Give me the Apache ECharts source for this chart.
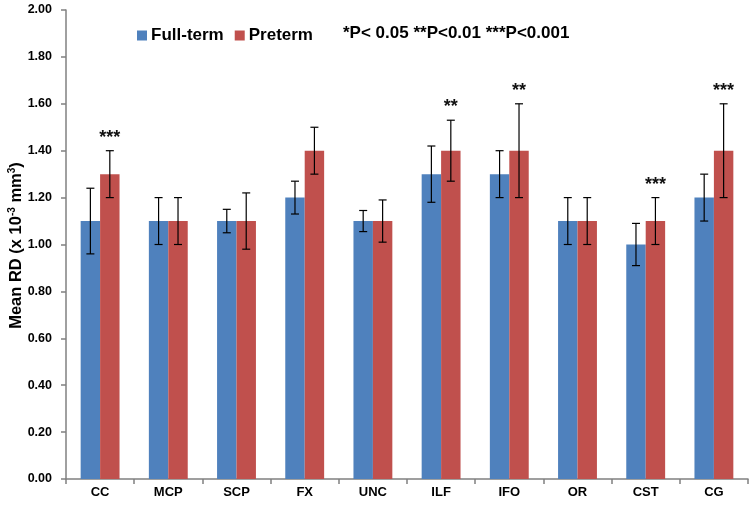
<!DOCTYPE html>
<html><head><meta charset="utf-8">
<script src="https://cdn.jsdelivr.net/npm/echarts@6/dist/echarts.min.js"></script>
<style>html,body{margin:0;padding:0;background:#fff}#c{width:755px;height:505px}</style>
</head><body><div id="c"></div>
<script>
const categories = ['CC','MCP','SCP','FX','UNC','ILF','IFO','OR','CST','CG'];
const fullTerm = [1.10,1.10,1.10,1.20,1.10,1.30,1.30,1.10,1.00,1.20];
const fullTermErr = [0.14,0.10,0.05,0.07,0.045,0.12,0.10,0.10,0.09,0.10];
const preterm = [1.30,1.10,1.10,1.40,1.10,1.40,1.40,1.10,1.10,1.40];
const pretermErr = [0.10,0.10,0.12,0.10,0.09,0.13,0.20,0.10,0.10,0.20];
const significance = ['***','','','','','**','**','','***','***'];
const yTicks = [0,0.2,0.4,0.6,0.8,1.0,1.2,1.4,1.6,1.8,2.0];

const FONT = '"Liberation Sans", Arial, sans-serif';
const BLUE = '#4F81BD', RED = '#C0504D';
const CAT_GAP = 0.43;

function errorSeries(values, errs, side) {
  return {
    type: 'custom',
    silent: true,
    z: 5,
    data: values.map((v, i) => [i, v, errs[i]]),
    renderItem: function (params, api) {
      const i = api.value(0), v = api.value(1), e = api.value(2);
      const cw = api.size([1, 0])[0];
      const bw = cw * (1 - CAT_GAP) / 2;
      const dx = side * bw / 2;
      const top = api.coord([i, v + e]);
      const bot = api.coord([i, v - e]);
      const x = top[0] + dx;
      const cap = 4;
      const st = { stroke: '#000', lineWidth: 1.2 };
      return { type: 'group', children: [
        { type: 'line', shape: { x1: x, y1: top[1], x2: x, y2: bot[1] }, style: st },
        { type: 'line', shape: { x1: x - cap, y1: top[1], x2: x + cap, y2: top[1] }, style: st },
        { type: 'line', shape: { x1: x - cap, y1: bot[1], x2: x + cap, y2: bot[1] }, style: st }
      ]};
    }
  };
}

const chart = echarts.init(document.getElementById('c'), null, { renderer: 'canvas' });
chart.setOption({
  animation: false,
  backgroundColor: '#fff',
  textStyle: { fontFamily: FONT },
  title: {
    text: '*P< 0.05 **P<0.01 ***P<0.001',
    left: 338, top: 20,
    textStyle: { fontFamily: FONT, fontSize: 17, fontWeight: 'bold', color: '#000' }
  },
  legend: {
    data: ['Full-term', 'Preterm'],
    left: 132, top: 22,
    itemWidth: 10, itemHeight: 10, itemGap: 11,
    icon: 'rect',
    textStyle: { fontFamily: FONT, fontSize: 17, fontWeight: 'bold', color: '#000', padding: [0, 0, 0, -1] }
  },
  grid: { left: 66, right: 7, top: 10, bottom: 26, containLabel: false, outerBoundsMode: 'none' },
  xAxis: {
    type: 'category',
    data: categories,
    axisLine: { lineStyle: { color: '#808080', width: 1.5 } },
    axisTick: { show: true, length: 5, alignWithLabel: false, lineStyle: { color: '#808080', width: 1.5 } },
    axisLabel: { fontFamily: FONT, fontSize: 13, fontWeight: 'bold', color: '#000', margin: 7 }
  },
  yAxis: {
    type: 'value',
    min: 0, max: 2, interval: 0.2,
    name: 'Mean RD (x 10{sup|-3} mm{sup|3})',
    nameLocation: 'middle',
    nameRotate: 90,
    nameGap: 41,
    nameMoveOverlap: false,
    nameTextStyle: {
      fontFamily: FONT, fontSize: 16.5, fontWeight: 'bold', color: '#000', padding: [0, 2, 0, 0],
      rich: { sup: { fontFamily: FONT, fontSize: 10, fontWeight: 'bold', color: '#000', verticalAlign: 'top', padding: [0, 0, 8, 0] } }
    },
    axisLine: { show: true, lineStyle: { color: '#808080', width: 1.5 } },
    axisTick: { show: true, length: 5, lineStyle: { color: '#808080', width: 1.5 } },
    splitLine: { show: false },
    axisLabel: {
      fontFamily: FONT, fontSize: 12.5, fontWeight: 'bold', color: '#000', margin: 14,
      formatter: function (v) { return yTicks.some(t => Math.abs(t - v) < 1e-9) ? v.toFixed(2) : ''; }
    }
  },
  series: [
    { name: 'Full-term', type: 'bar', data: fullTerm, barGap: '0%', barCategoryGap: (CAT_GAP * 100) + '%',
      itemStyle: { color: BLUE } },
    { name: 'Preterm', type: 'bar', data: preterm, barGap: '0%', barCategoryGap: (CAT_GAP * 100) + '%',
      itemStyle: { color: RED } },
    errorSeries(fullTerm, fullTermErr, -1),
    errorSeries(preterm, pretermErr, 1),
    {
      type: 'custom', silent: true, z: 6,
      data: preterm.map((v, i) => [i, v + pretermErr[i], significance[i]]),
      renderItem: function (params, api) {
        const i = api.value(0), top = api.value(1);
        const s = significance[i];
        if (!s) return null;
        const cw = api.size([1, 0])[0];
        const bw = cw * (1 - CAT_GAP) / 2;
        const p = api.coord([i, top]);
        return { type: 'text', style: {
          x: p[0] + bw / 2, y: p[1] - 4, text: s,
          align: 'center', verticalAlign: 'bottom',
          font: 'bold 18px ' + FONT, fill: '#111'
        }};
      }
    }
  ]
});
</script>
</body></html>
